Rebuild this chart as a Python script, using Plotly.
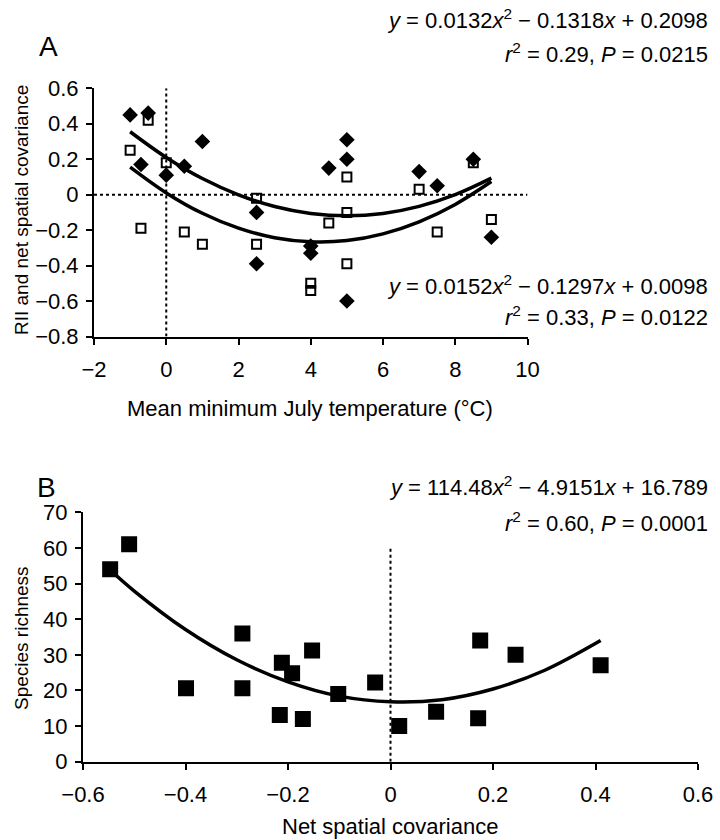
import plotly.graph_objects as go

# ---------------- Panel A data ----------------
a_diam_x = [-1.0, -0.5, -0.7, 0.0, 0.5, 1.0, 2.5, 2.5, 4.0, 4.0, 4.5, 5.0, 5.0, 5.0, 7.0, 7.5, 8.5, 9.0]
a_diam_y = [0.45, 0.46, 0.17, 0.11, 0.16, 0.30, -0.10, -0.39, -0.29, -0.33, 0.15, 0.31, 0.20, -0.60, 0.13, 0.05, 0.20, -0.24]
a_sq_x = [-1.0, -0.5, -0.7, 0.0, 0.5, 1.0, 2.5, 2.5, 4.0, 4.0, 4.5, 5.0, 5.0, 5.0, 7.0, 7.5, 8.5, 9.0]
a_sq_y = [0.25, 0.42, -0.19, 0.18, -0.21, -0.28, -0.02, -0.28, -0.50, -0.54, -0.16, 0.10, -0.10, -0.39, 0.03, -0.21, 0.18, -0.14]

# trend curves
a_curve_x = [-1, 0, 1, 2, 3, 4, 5, 6, 7, 8, 9]
a_upper_y = [0.355, 0.210, 0.091, -0.001, -0.067, -0.106, -0.119, -0.106, -0.066, 0.000, 0.093]
a_lower_y = [0.155, 0.010, -0.105, -0.189, -0.243, -0.266, -0.259, -0.221, -0.153, -0.055, 0.074]

a_xticks = [-2, 0, 2, 4, 6, 8, 10]
a_yticks = [-0.8, -0.6, -0.4, -0.2, 0, 0.2, 0.4, 0.6]

# ---------------- Panel B data ----------------
b_x = [-0.547, -0.510, -0.399, -0.289, -0.289, -0.212, -0.192, -0.216, -0.171, -0.153, -0.102,
       -0.030, 0.017, 0.089, 0.175, 0.171, 0.244, 0.410]
b_y = [54.0, 61.0, 20.6, 36.0, 20.6, 27.8, 24.8, 13.1, 12.0, 31.2, 19.0,
       22.2, 10.0, 14.0, 34.0, 12.2, 30.0, 27.1]
b_curve_x = [-0.547, -0.5, -0.4, -0.3, -0.2, -0.1, 0.0, 0.1, 0.2, 0.3, 0.41]
b_curve_y = [53.8, 47.9, 37.1, 28.6, 22.4, 18.4, 16.8, 17.4, 20.4, 25.6, 34.0]

b_xticks = [-0.6, -0.4, -0.2, 0, 0.2, 0.4, 0.6]
b_yticks = [0, 10, 20, 30, 40, 50, 60, 70]

W, H = 720, 840
FONT = "Liberation Sans, Arial, Helvetica, sans-serif"
TICKF = 22

fig = go.Figure()

# Panel A
fig.add_trace(go.Scatter(x=a_curve_x, y=a_upper_y, mode="lines", line=dict(color="black", width=3.5, shape="spline"),
                         xaxis="x", yaxis="y", showlegend=False, hoverinfo="skip"))
fig.add_trace(go.Scatter(x=a_curve_x, y=a_lower_y, mode="lines", line=dict(color="black", width=3.5, shape="spline"),
                         xaxis="x", yaxis="y", showlegend=False, hoverinfo="skip"))
fig.add_trace(go.Scatter(x=a_sq_x, y=a_sq_y, mode="markers",
                         marker=dict(symbol="square-open", size=9, color="black", line=dict(width=2, color="black")),
                         xaxis="x", yaxis="y", showlegend=False))
fig.add_trace(go.Scatter(x=a_diam_x, y=a_diam_y, mode="markers",
                         marker=dict(symbol="diamond", size=12, color="black"),
                         xaxis="x", yaxis="y", showlegend=False))

# Panel B
fig.add_trace(go.Scatter(x=b_curve_x, y=b_curve_y, mode="lines", line=dict(color="black", width=3.5, shape="spline"),
                         xaxis="x2", yaxis="y2", showlegend=False, hoverinfo="skip"))
fig.add_trace(go.Scatter(x=b_x, y=b_y, mode="markers",
                         marker=dict(symbol="square", size=16, color="black"),
                         xaxis="x2", yaxis="y2", showlegend=False))

def px_x(p):
    return p / W

def px_y(p):
    return 1 - p / H

axis_common = dict(showgrid=False, zeroline=False, showline=True, linecolor="black", linewidth=2,
                   ticks="outside", ticklen=6, tickwidth=2, tickcolor="black", automargin=False,
                   tickfont=dict(family=FONT, size=TICKF, color="black"))

fig.update_layout(
    width=W, height=H,
    margin=dict(l=0, r=0, t=0, b=0, pad=0),
    paper_bgcolor="white", plot_bgcolor="white",
    font=dict(family=FONT, color="black"),
    xaxis=dict(domain=[px_x(94), px_x(527.5)], anchor="y", range=[-2, 10], tickvals=a_xticks,
               ticklabelstandoff=6, **axis_common),
    yaxis=dict(domain=[px_y(336.5), px_y(88.3)], anchor="x", range=[-0.8, 0.6], tickvals=a_yticks,
               ticklabelstandoff=3, **axis_common),
    xaxis2=dict(domain=[px_x(83), px_x(698)], anchor="y2", range=[-0.6, 0.6], tickvals=b_xticks,
                ticklabelstandoff=6, **axis_common),
    yaxis2=dict(domain=[px_y(761.7), px_y(512.3)], anchor="x2", range=[0, 70], tickvals=b_yticks,
                ticklabelstandoff=3, **axis_common),
)

# reference dotted lines
fig.add_shape(type="line", xref="x", yref="y", x0=-2, x1=10, y0=0, y1=0,
              line=dict(color="black", width=2, dash="dot"))
fig.add_shape(type="line", xref="x", yref="y", x0=0, x1=0, y0=-0.8, y1=0.6,
              line=dict(color="black", width=2, dash="dot"))
fig.add_shape(type="line", xref="x2", yref="y2", x0=0, x1=0, y0=0, y1=60,
              line=dict(color="black", width=2, dash="dot"))

def ann(text, x, y, size=22, xanchor="center", textangle=0):
    fig.add_annotation(text=text, x=px_x(x), y=px_y(y), xref="paper", yref="paper",
                       xanchor=xanchor, yanchor="middle", showarrow=False, textangle=textangle,
                       font=dict(family=FONT, size=size, color="black"))

ann("A", 48, 46, size=28)
ann("B", 46, 487, size=28)
ann("<i>y</i> = 0.0132<i>x</i><sup>2</sup> − 0.1318<i>x</i> + 0.2098", 710, 19, xanchor="right")
ann("<i>r</i><sup>2</sup> = 0.29, <i>P</i> = 0.0215", 710, 53, xanchor="right")
ann("<i>y</i> = 0.0152<i>x</i><sup>2</sup> − 0.1297<i>x</i> + 0.0098", 710, 285, xanchor="right")
ann("<i>r</i><sup>2</sup> = 0.33, <i>P</i> = 0.0122", 710, 316, xanchor="right")
ann("<i>y</i> = 114.48<i>x</i><sup>2</sup> − 4.9151<i>x</i> + 16.789", 710, 486, xanchor="right")
ann("<i>r</i><sup>2</sup> = 0.60, <i>P</i> = 0.0001", 710, 522, xanchor="right")
ann("Mean minimum July temperature (°C)", 310, 408)
ann("Net spatial covariance", 390, 826)
ann("RII and net spatial covariance", 21, 210, size=19, textangle=-90)
ann("Species richness", 21, 638, size=19, textangle=-90)

fig.write_html("out.html",
               config={"displayModeBar": False, "staticPlot": True},
               post_script="document.body.style.margin='0';document.body.style.padding='0';"
                           "document.documentElement.style.overflow='hidden';")
